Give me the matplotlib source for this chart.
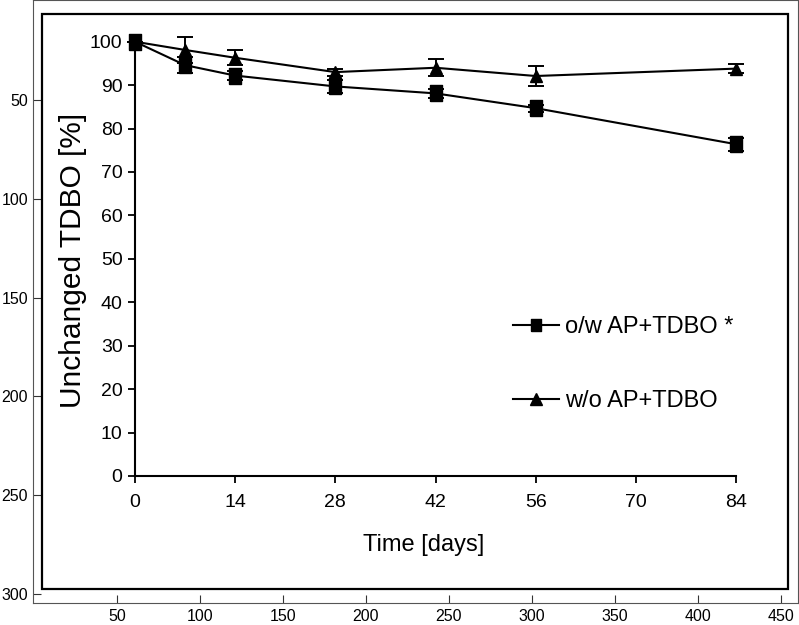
import matplotlib.pyplot as plt
from matplotlib.lines import Line2D
from matplotlib.patches import Rectangle

# outer (pixel) axes
outer_xticks = [50, 100, 150, 200, 250, 300, 350, 400, 450]
outer_yticks = [50, 100, 150, 200, 250, 300]

# inner chart data
days = [0, 7, 14, 28, 42, 56, 84]
ow_vals = [100, 94.6, 92.2, 89.7, 88.1, 84.7, 76.4]
ow_err = [0, 1.8, 1.0, 1.5, 1.0, 0.8, 1.5]
wo_vals = [100, 98.1, 96.3, 93.0, 94.0, 92.1, 93.8]
wo_err = [0, 3.0, 1.7, 0.8, 2.0, 2.2, 1.0]
xticks = [0, 14, 28, 42, 56, 70, 84]
yticks = [0, 10, 20, 30, 40, 50, 60, 70, 80, 90, 100]

plt.rcParams['font.family'] = ['Liberation Sans', 'DejaVu Sans']

fig = plt.figure(figsize=(7.99, 6.25), dpi=100)

outer = fig.add_axes([33 / 799, 1 - 603 / 625, 765 / 799, 603 / 625])
outer.set_xlim(-0.5, 460.5)
outer.set_ylim(304.5, -0.5)
outer.set_xticks(outer_xticks)
outer.set_yticks(outer_yticks)
outer.tick_params(labelsize=11.5, length=6, direction='in', color='#333333')
outer.tick_params(axis='x', pad=4.5)
for s in outer.spines.values():
    s.set_color('#555555')
    s.set_linewidth(0.8)

# frame of the picture
fig.patches.append(Rectangle((41.7 / 799, 1 - 589 / 625), 746 / 799, 575 / 625,
                             transform=fig.transFigure, fill=False,
                             edgecolor='black', linewidth=1.6, zorder=5))

ax = fig.add_axes([135 / 799, 1 - 476 / 625, 601 / 799, 434.3 / 625])
ax.set_xlim(0, 84)
ax.set_ylim(0, 100)
ax.patch.set_alpha(0)
for s in ['top', 'right']:
    ax.spines[s].set_visible(False)
for s in ['left', 'bottom']:
    ax.spines[s].set_linewidth(1.5)

# markers look taller than wide in the reference
sq = [(-0.8, -1), (0.8, -1), (0.8, 1), (-0.8, 1), (-0.8, -1)]
ax.errorbar(days, ow_vals, yerr=ow_err, color='black', marker=sq, markersize=11,
            linewidth=1.5, capsize=6, elinewidth=1.4, capthick=1.4,
            clip_on=False, zorder=4)
ax.errorbar(days, wo_vals, yerr=wo_err, color='black', marker='^', markersize=9,
            linewidth=1.5, capsize=6, elinewidth=1.4, capthick=1.4,
            clip_on=False, zorder=3)

ax.set_xticks(xticks)
ax.set_yticks(yticks)
ax.tick_params(length=5, width=1.3, labelsize=14)
ax.tick_params(axis='x', pad=8)
ax.tick_params(axis='y', pad=4)

ax.set_xlabel('Time [days]', fontsize=17)
ax.xaxis.set_label_coords(0.481, -0.133)
ax.set_ylabel('Unchanged TDBO [%]', fontsize=21.5)
ax.yaxis.set_label_coords(-0.08, 0.497)

handles = [Line2D([], [], color='black', marker=sq, markersize=9, linewidth=1.5),
           Line2D([], [], color='black', marker='^', markersize=8, linewidth=1.5)]
ax.legend(handles, ['o/w AP+TDBO *', 'w/o AP+TDBO'], frameon=False, loc='upper left',
          bbox_to_anchor=(0.629, 0.368), borderaxespad=0, borderpad=0,
          handlelength=1.95, handletextpad=0.25, labelspacing=2.2,
          prop={'size': 17})

fig.savefig('out.png', dpi=100)
